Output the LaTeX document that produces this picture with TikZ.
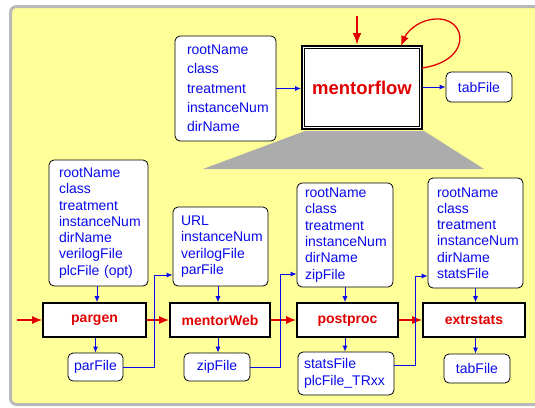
\documentclass[tikz,border=0pt]{standalone}
\usepackage{fontspec}
\setmainfont{Liberation Sans}
\usetikzlibrary{arrows.meta,calc}
\definecolor{panelyellow}{RGB}{255,255,153}
\definecolor{panelgray}{RGB}{185,185,185}
\definecolor{myblue}{RGB}{10,10,235}
\definecolor{myred}{RGB}{225,0,0}
\definecolor{trapgray}{RGB}{172,172,172}
\tikzset{
  inbox/.style={draw=black, line width=0.8pt, rounded corners=5pt, fill=white,
    align=left, text=myblue, inner sep=0pt},
  onebox/.style={draw=black, line width=0.8pt, rounded corners=5pt, fill=white,
    text=myblue, inner sep=0pt, font=\fontsize{14}{16}\selectfont},
  proc/.style={draw=black, line width=1.6pt, fill=white, text=myred,
    inner sep=0pt, font=\fontsize{14}{16}\selectfont\bfseries},
  bline/.style={draw=myblue, line width=0.8pt, -{Latex[length=6pt,width=5pt]}},
  rline/.style={draw=myred, line width=1.5pt, -{Latex[length=10pt,width=8pt]}},
  rthick/.style={draw=myred, line width=2.2pt, -{Latex[length=12pt,width=9pt]}},
}
\begin{document}
\begin{tikzpicture}[x=1pt,y=-1pt]
\useasboundingbox (0,0) rectangle (535,407);
% panel
\draw[panelgray, line width=3pt, fill=panelyellow, rounded corners=6pt]
  (10.5,6.5) rectangle (560,404.5);

% trapezoid
\fill[trapgray] (305,131) -- (424,131) -- (484,169) -- (203,169) -- cycle;

% top row
\node[inbox, text width=77pt, inner xsep=12pt, minimum height=105pt,
  font=\fontsize{14}{19.3}\selectfont] (topin) at (225.5,88.5)
  {rootName\\class\\treatment\\instanceNum\\dirName};
\node[draw=black, line width=2pt, fill=white, minimum width=120pt, minimum height=83pt,
  inner sep=0pt, text=myred, font=\fontsize{18.5}{20}\selectfont\bfseries] (mf) at (362,87.5) {mentorflow};
\draw[black, line width=0.9pt] ($(mf.north west)+(3.2,3.2)$) rectangle ($(mf.south east)+(-3.2,-3.2)$);
\node[onebox, minimum width=66pt, minimum height=30pt] (tab1) at (479,87) {tabFile};

\draw[bline] (topin.east) -- (topin.east -| mf.west);
\draw[bline] (mf.east |- tab1.west) -- (tab1.west);
\coordinate (topstart) at (357,16);
\draw[rthick] (topstart) -- (topstart |- mf.north);
\coordinate (loopstart) at (422,68);
\coordinate (loopend) at (401,46);
\draw[rline, line width=1.3pt] (loopstart) .. controls (478,60) and (466,8) .. (425,21)
  .. controls (413,25) and (406,34) .. (loopend);

% bottom row
\node[inbox, text width=79pt, inner xsep=10pt, minimum height=126pt,
  font=\fontsize{14}{16.3}\selectfont] (pin) at (98.5,223)
  {rootName\\class\\treatment\\instanceNum\\dirName\\verilogFile\\plcFile (opt)};
\node[proc, minimum width=103pt, minimum height=34pt] (pargen) at (94.5,320) {pargen};
\node[onebox, minimum width=55pt, minimum height=28pt] (parfile) at (95.5,367) {parFile};

\node[inbox, text width=79pt, inner xsep=8pt, minimum height=79pt,
  font=\fontsize{14}{16.3}\selectfont] (url) at (220.5,246.5)
  {URL\\instanceNum\\verilogFile\\parFile};
\node[proc, minimum width=100pt, minimum height=34pt] (mw) at (220,320) {mentorWeb};
\node[onebox, minimum width=66pt, minimum height=28pt] (zip) at (217,367) {zipFile};

\node[inbox, text width=80pt, inner xsep=8pt, minimum height=104pt,
  font=\fontsize{14}{16.3}\selectfont] (ppin) at (345,235)
  {rootName\\class\\treatment\\instanceNum\\dirName\\zipFile};
\node[proc, minimum width=101pt, minimum height=34pt] (pp) at (347.5,320) {postproc};
\node[inbox, text width=84pt, inner xsep=6pt, minimum height=43pt,
  font=\fontsize{14}{16.3}\selectfont] (stats) at (346,373.5)
  {statsFile\\plcFile\_TRxx};

\node[inbox, text width=77pt, inner xsep=9pt, minimum height=110pt,
  font=\fontsize{14}{16.3}\selectfont] (exin) at (475.5,233)
  {rootName\\class\\treatment\\instanceNum\\dirName\\statsFile};
\node[proc, minimum width=102pt, minimum height=34pt] (ex) at (474,320) {extrstats};
\node[onebox, minimum width=66pt, minimum height=29pt] (tab2) at (477,368.5) {tabFile};

% red flow
\coordinate (redin) at (17,320);
\draw[rline] (redin) -- (pargen.west);
\draw[rline] (pargen.east) -- (mw.west);
\draw[rline] (mw.east) -- (pp.west);
\draw[rline] (pp.east) -- (ex.west);

% vertical blue arrows
\coordinate (v1) at ($(pin.south)+(-1.5,0)$);
\coordinate (v2) at ($(url.south)+(-2.5,0)$);
\coordinate (v3) at ($(zip.north)+(1,0)$);
\draw[bline] (v1) -- (v1 |- pargen.north);
\draw[bline] (parfile.north |- pargen.south) -- (parfile.north);
\draw[bline] (v2) -- (v2 |- mw.north);
\draw[bline] (v3 |- mw.south) -- (v3);
\draw[bline] (ppin.south) -- (ppin.south |- pp.north);
\draw[bline] (ppin.south |- pp.south) -- (ppin.south |- stats.north);
\draw[bline] (exin.south) -- (exin.south |- ex.north);
\draw[bline] (exin.south |- ex.south) -- (exin.south |- tab2.north);

% elbow connectors
\draw[bline] (parfile.east) -- ++(31,0) |- ($(url.west)+(0,28.5)$);
\draw[bline] (zip.east) -- ++(30,0) |- ($(ppin.west)+(0,39)$);
\draw[bline] ($(stats.east)+(0,-8.5)$) -- ++(21,0) |- ($(exin.west)+(0,43)$);
\end{tikzpicture}
\end{document}
